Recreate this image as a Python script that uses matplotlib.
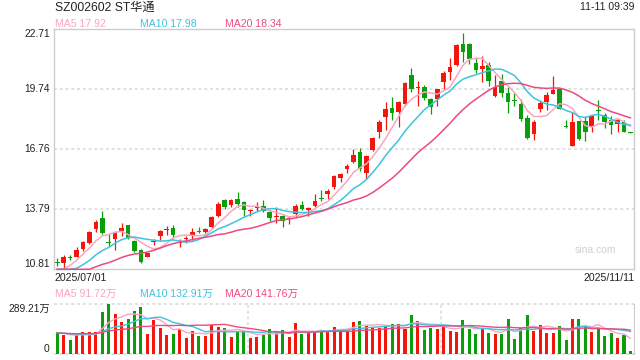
import numpy as np
import pandas as pd
import matplotlib
matplotlib.use("Agg")
import matplotlib.pyplot as plt

plt.rcParams['font.family'] = ['Liberation Sans', 'Noto Sans CJK SC', 'DejaVu Sans']

title = "SZ002602 ST华通"
stamp = "11-11 09:39"
date_first = "2025/07/01"
date_last = "2025/11/11"

# daily OHLC, 2025/07/01 .. 2025/11/11
opens = [11.14, 11.14, 11.42, 11.43, 11.82, 12.10, 12.80, 13.34, 12.16, 12.30,
         12.70, 13.03, 12.20, 11.78, 11.40, 12.18, 12.44, 12.76, 12.87, 12.10,
         12.30, 12.49, 12.70, 12.65, 12.90, 13.44, 14.27, 14.02, 14.32, 14.17,
         13.68, 13.84, 13.97, 13.63, 13.38, 13.47, 13.28, 13.54, 14.02, 13.74,
         13.94, 14.33, 14.54, 14.87, 15.34, 15.77, 16.14, 16.62, 15.57, 16.74,
         17.60, 18.34, 18.82, 18.60, 19.00, 20.43, 19.80, 19.87, 19.23, 19.27,
         20.10, 20.60, 20.94, 21.98, 21.98, 21.03, 20.74, 20.93, 19.40, 20.13,
         19.53, 19.18, 19.00, 18.33, 17.50, 18.77, 19.10, 19.50, 19.73, 17.91,
         16.94, 18.18, 18.18, 17.87, 18.72, 18.47, 18.23, 18.03, 18.13, 17.60]
highs = [11.37, 11.50, 11.52, 11.90, 12.20, 12.73, 13.27, 13.68, 12.57, 12.73,
         13.13, 13.03, 12.27, 11.84, 11.63, 12.32, 12.78, 12.98, 13.03, 12.32,
         12.47, 12.87, 12.93, 12.84, 13.47, 14.17, 14.32, 14.30, 14.62, 14.20,
         13.82, 14.13, 14.23, 13.73, 13.90, 13.50, 13.43, 14.03, 14.20, 13.90,
         14.53, 14.73, 14.78, 15.50, 15.60, 16.03, 16.77, 16.80, 16.48, 17.37,
         18.23, 19.13, 19.37, 19.15, 20.10, 20.77, 20.13, 19.97, 19.32, 19.77,
         20.63, 21.27, 21.98, 22.53, 22.03, 21.32, 21.40, 21.07, 20.43, 20.50,
         19.83, 19.57, 19.27, 18.47, 18.20, 19.17, 19.60, 20.37, 19.73, 18.20,
         18.60, 18.18, 18.40, 18.47, 19.20, 18.57, 18.40, 18.32, 18.23, 17.60]
lows = [10.98, 10.87, 11.27, 11.40, 11.74, 12.07, 12.67, 12.58, 11.98, 11.77,
        12.44, 12.30, 11.67, 11.10, 11.40, 12.02, 12.27, 12.52, 12.37, 11.93,
        12.12, 12.27, 12.60, 12.60, 12.87, 13.40, 13.79, 13.90, 13.90, 13.43,
        13.47, 13.70, 13.63, 13.20, 13.13, 12.93, 13.07, 13.40, 13.73, 13.47,
        13.90, 14.20, 14.32, 14.80, 15.15, 15.57, 16.07, 15.70, 15.28, 16.70,
        17.30, 17.70, 18.20, 17.87, 18.90, 19.60, 18.90, 19.20, 18.53, 18.93,
        19.73, 20.20, 20.87, 21.10, 20.98, 20.53, 20.10, 19.90, 19.37, 19.37,
        18.57, 18.90, 18.17, 17.28, 17.20, 18.60, 18.70, 19.50, 18.77, 17.80,
        16.94, 17.23, 17.17, 17.60, 18.23, 17.80, 17.50, 17.63, 17.60, 17.58]
closes = [11.12, 11.40, 11.38, 11.78, 12.14, 12.64, 13.18, 12.60, 12.12, 12.68,
          12.88, 12.37, 11.70, 11.17, 11.60, 12.22, 12.73, 12.80, 12.50, 12.14,
          12.36, 12.65, 12.67, 12.80, 13.40, 14.07, 13.90, 14.23, 14.03, 13.77,
          13.72, 13.97, 13.70, 13.37, 13.42, 13.20, 13.32, 13.97, 13.80, 13.84,
          14.18, 14.31, 14.70, 15.43, 15.53, 15.95, 16.47, 15.80, 16.43, 17.33,
          18.13, 18.77, 18.57, 19.10, 20.03, 19.73, 19.84, 19.30, 18.87, 19.73,
          20.53, 20.83, 21.93, 21.60, 21.24, 20.70, 20.87, 20.15, 19.83, 19.57,
          19.13, 19.16, 18.24, 17.30, 18.13, 19.07, 19.43, 19.70, 18.77, 17.89,
          18.13, 17.27, 17.60, 18.40, 18.68, 18.13, 17.97, 18.23, 17.60, 17.58]
# volume, 万手
volumes = [126.2, 110.6, 83.5, 112.6, 126.2, 126.2, 130.0, 242.6, 289.2, 229.0,
           184.4, 205.7, 246.5, 269.8, 118.4, 199.9, 153.3, 112.6, 118.4, 145.6,
           95.1, 135.9, 106.8, 106.8, 168.9, 159.2, 153.3, 100.9, 133.9, 135.9,
           95.1, 100.9, 112.6, 147.5, 126.2, 141.7, 100.9, 178.6, 118.4, 126.2,
           133.9, 135.9, 135.9, 159.2, 147.5, 141.7, 188.3, 194.1, 165.0, 153.3,
           153.3, 165.0, 176.6, 176.6, 147.5, 223.2, 194.1, 141.7, 153.3, 147.5,
           165.0, 135.9, 130.0, 199.9, 147.5, 118.4, 147.5, 124.2, 118.4, 118.4,
           205.7, 89.3, 153.3, 223.2, 135.9, 170.8, 124.2, 124.2, 165.0, 83.5,
           205.7, 205.7, 165.0, 130.0, 147.5, 106.8, 124.2, 95.1, 112.6, 20.0]

# sessions before 07/01 that feed the moving averages at the left edge
prior_closes = [10.62, 10.55, 10.48, 10.40, 10.35, 10.30, 10.28, 10.33, 10.25, 10.22,
                10.30, 10.36, 10.42, 10.38, 10.45, 10.50, 10.46, 10.52, 10.60]
prior_volumes = [118, 125, 130, 112, 120, 128, 115, 122, 119, 126,
                 121, 117, 124, 130, 116, 120, 125, 118, 122]

price_ticks = [10.81, 13.79, 16.76, 19.74, 22.71]
vol_top = 289.21
ma_periods = [5, 10, 20]
ma_labels = ["MA5 17.92", "MA10 17.98", "MA20 18.34"]
vol_ma_labels = ["MA5 91.72万", "MA10 132.91万", "MA20 141.76万"]

RED = '#f2160d'
GREEN = '#0b9e0b'
MA_COLORS = ['#f9a6c2', '#3ec3e0', '#ec4a80']
BORDER = '#cccccc'
GRID = '#dddddd'
TXT = '#222222'
W, H = 640, 360


def moving(prior, values, n):
    s = pd.Series(list(prior) + list(values), dtype=float)
    return s.rolling(n).mean().values[len(prior):]


n = len(closes)
x = np.arange(n)
o = np.array(opens)
c = np.array(closes)
up = c >= o
cols = [RED if u else GREEN for u in up]

fig = plt.figure(figsize=(6.4, 3.6), dpi=100)
ax = fig.add_axes([54.3 / W, 1 - 269.3 / H, 580 / W, 240 / H])
axv = fig.add_axes([54.3 / W, 1 - 354.3 / H, 580 / W, 50.3 / H])

# --- price panel
ax.vlines(x, lows, highs, colors=cols, linewidth=0.9, zorder=3)
body = np.maximum(np.abs(c - o), 0.05)
ax.bar(x, body, bottom=np.minimum(o, c), width=0.72, color=cols, linewidth=0, zorder=4)
for p, col in zip(ma_periods, MA_COLORS):
    m = np.clip(moving(prior_closes, closes, p), price_ticks[0], price_ticks[-1])
    ax.plot(x, m, color=col, linewidth=1.1, zorder=5, clip_on=False)
for t in price_ticks[1:-1]:
    ax.axhline(t, color=GRID, linewidth=1.3, linestyle=(0, (1.6, 1.6)), zorder=1)
ax.set_xlim(-0.45, n - 0.4)
ax.set_ylim(price_ticks[0], price_ticks[-1])
ax.set_xticks([])
ax.set_yticks([])
for s in ax.spines.values():
    s.set_color(BORDER)
    s.set_linewidth(1)
for i, t in enumerate(price_ticks):
    va = 'bottom' if i == 0 else ('top' if i == len(price_ticks) - 1 else 'center')
    ax.text(-0.008, t, f"{t:.2f}", transform=ax.get_yaxis_transform(),
            ha='right', va=va, fontsize=7.4, color=TXT)
ax.text(595 / W, 1 - 250 / H, "sina.com", transform=fig.transFigure,
        ha='center', va='center', fontsize=7.5, color='#cfcfcf')

# --- volume panel
axv.bar(x, volumes, width=0.47, color=cols, linewidth=0, zorder=3)
for p, col in zip(ma_periods, MA_COLORS):
    axv.plot(x, moving(prior_volumes, volumes, p), color=col, linewidth=1.0, zorder=4)
axv.set_xlim(ax.get_xlim())
axv.set_ylim(0, vol_top)
axv.set_xticks([])
axv.set_yticks([])
for k in ['top', 'bottom', 'left']:
    axv.spines[k].set_visible(False)
axv.spines['right'].set_color(BORDER)
for yv in [0, vol_top]:
    axv.axhline(yv, color=GRID, linewidth=1.3, linestyle=(0, (1.6, 1.6)), zorder=1, clip_on=False)
x0, x1 = axv.get_xlim()
for f in [1 / 3, 2 / 3]:
    axv.axvline(x0 + (x1 - x0) * f, color=GRID, linewidth=1.3, linestyle=(0, (1.6, 1.6)), zorder=1)
axv.text(-0.008, vol_top, f"{vol_top:.2f}万", transform=axv.get_yaxis_transform(),
         ha='right', va='top', fontsize=7.4, color=TXT)
axv.text(-0.008, 0, "0", transform=axv.get_yaxis_transform(),
         ha='right', va='bottom', fontsize=7.4, color=TXT)

# --- header and labels
fig.text(55 / W, 1 - 8 / H, title, ha='left', va='center', fontsize=8.7, color=TXT)
fig.text(634 / W, 1 - 7.5 / H, stamp, ha='right', va='center', fontsize=7.5, color=TXT)
for lx, lab, col in zip([55, 140, 225], ma_labels, MA_COLORS):
    fig.text(lx / W, 1 - 24 / H, lab, ha='left', va='center', fontsize=7.6, color=col)
for lx, lab, col in zip([55, 140, 225], vol_ma_labels, MA_COLORS):
    fig.text(lx / W, 1 - 294 / H, lab, ha='left', va='center', fontsize=7.6, color=col)
fig.text(54.3 / W, 1 - 278 / H, date_first, ha='left', va='center', fontsize=7.6, color=TXT)
fig.text(634.3 / W, 1 - 278 / H, date_last, ha='right', va='center', fontsize=7.6, color=TXT)

fig.savefig("out.png", dpi=100)
